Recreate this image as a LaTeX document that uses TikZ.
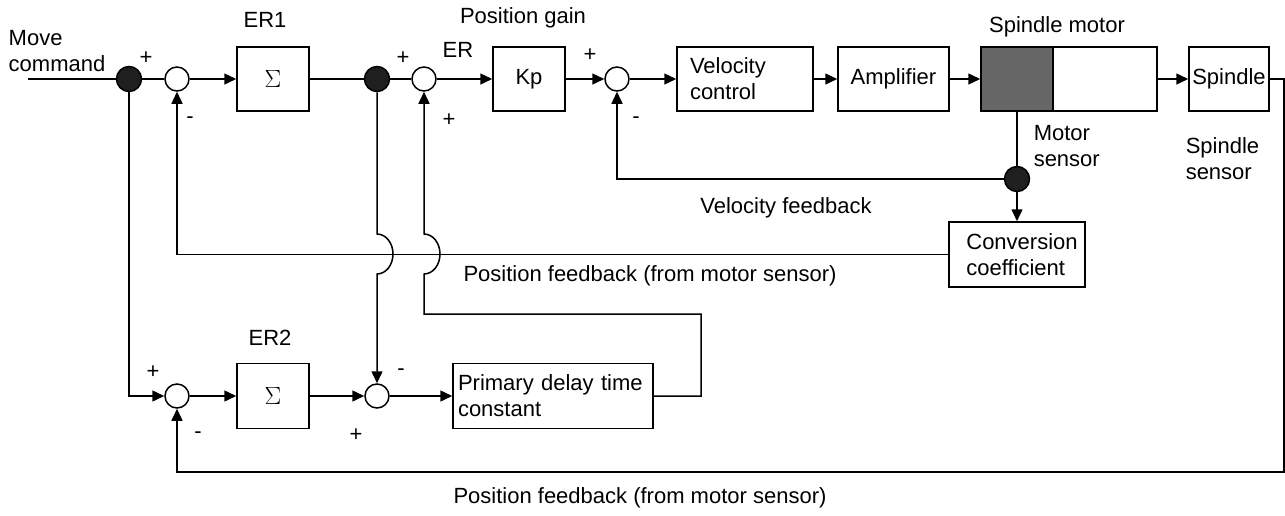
\documentclass[tikz,border=0pt]{standalone}
\usepackage{fontspec}
\setmainfont{Liberation Sans}
\newfontfamily\sigfont{Liberation Serif}
\usetikzlibrary{arrows.meta}
\begin{document}
\begin{tikzpicture}[x=1pt,y=1pt,
  line width=1.5pt,
  every node/.style={font=\fontsize{22}{26}\selectfont},
  arr/.style={-{Triangle[length=12pt,width=11pt]}},
  blk/.style={draw,minimum height=64pt,inner sep=0pt,line width=1.5pt},
  sumc/.style={draw,circle,minimum size=24pt,inner sep=0pt,fill=white},
  dotc/.style={draw,circle,minimum size=25pt,inner sep=0pt,fill=black!88},
  lbl/.style={inner sep=0pt},
  sgn/.style={inner sep=0pt,font=\fontsize{22}{26}\selectfont},
  sig/.style={blk,font=\fontsize{24}{28}\sigfont},
]
\useasboundingbox (0,0) rectangle (1285,-515);
% top row
\coordinate (in) at (28,-79);
\node[dotc] (d1) at (129,-79) {};
\node[sumc] (c1) at (177,-79) {};
\node[sig,minimum width=72pt] (er1) at (273,-79) {$\Sigma$};
\node[dotc] (d2) at (377,-79) {};
\node[sumc] (c2) at (424,-79) {};
\node[blk,minimum width=72pt] (kp) at (529,-79) {Kp};
\node[blk,minimum width=136pt,text width=110pt,align=left,inner xsep=13pt] (vel) at (745,-79) {Velocity\\control};
\node[sumc] (c3) at (617,-79) {};
\node[blk,minimum width=111pt] (amp) at (893.5,-79) {Amplifier};
\node[blk,minimum width=176pt] (mot) at (1069,-79) {};
\node[blk,minimum width=72pt,fill=black!60] (motg) at (1017,-79) {};
\node[blk,minimum width=80pt] (sp) at (1229,-79) {Spindle};
\node[dotc] (d3) at (1017,-179) {};
\node[blk,minimum width=136pt,minimum height=65pt,align=left] (conv) at (1017,-254.5) {\hspace*{10pt}Conversion\\\hspace*{10pt}coefficient};
% bottom row
\node[sumc] (c4) at (177,-396) {};
\node[sig,minimum width=72pt,minimum height=65pt] (er2) at (273,-396) {$\Sigma$};
\node[sumc] (c5) at (377,-396) {};
\node[blk,minimum width=200pt,minimum height=65pt,text width=190pt,align=left] (pd) at (553,-396) {Primary delay time\\constant};
% connectors
\draw (in) -- (d1.west);
\draw (d1.east) -- (c1.west);
\draw[arr] (c1.east) -- (er1.west);
\draw (er1.east) -- (d2.west);
\draw (d2.east) -- (c2.west);
\draw[arr] (c2.east) -- (kp.west);
\draw[arr] (kp.east) -- (c3.west);
\draw[arr] (c3.east) -- (vel.west);
\draw[arr] (vel.east) -- (amp.west);
\draw[arr] (amp.east) -- (mot.west);
\draw[arr] (mot.east) -- (sp.west);
\coordinate (sr) at (1284,-79);
\coordinate (sb) at (1284,-472);
\draw[arr] (sp.east) -- (sr) -- (sb) -| (c4.south);
\draw (motg.south) -- (d3.north);
\draw[arr] (d3.south) -- (conv.north);
\draw[arr] (d3.west) -| (c3.south);
\draw[arr] (conv.west) -| (c1.south);
\draw[arr] (d1.south) |- (c4.west);
\draw[arr] (c4.east) -- (er2.west);
\draw[arr] (er2.east) -- (c5.west);
\draw[arr] (c5.east) -- (pd.west);
\draw[arr] (d2.south) -- (377,-234) arc[start angle=90,end angle=-90,x radius=16,y radius=20] -- (c5.north);
\coordinate (pr) at (701,-396);
\coordinate (pt) at (701,-314);
\draw[arr] (pd.east) -- (pr) -- (pt) -- (424,-314) -- (424,-274) arc[start angle=-90,end angle=90,x radius=16,y radius=20] -- (c2.south);
% labels
\node[lbl,align=left,anchor=west] (mc) at (8,-51) {Move\\command};
\node[lbl] (ler1) at (265,-20) {ER1};
\node[lbl] (lpg) at (523,-18) {Position gain};
\node[lbl] (ler) at (458,-50) {ER};
\node[lbl] (lsm) at (1057,-27) {Spindle motor};
\node[lbl,align=left,anchor=west] (lms) at (1033,-146) {Motor\\sensor};
\node[lbl,align=left,anchor=west] (lss) at (1185,-159) {Spindle\\sensor};
\node[lbl] (lvf) at (786,-208) {Velocity feedback};
\node[lbl] (lpf1) at (650,-276) {Position feedback (from motor sensor)};
\node[lbl] (lpf2) at (640,-498) {Position feedback (from motor sensor)};
\node[lbl] (ler2) at (270,-338) {ER2};
% signs
\node[sgn] (s1) at (146,-58) {+};
\node[sgn] (s2) at (190,-120) {-};
\node[sgn] (s3) at (403,-58) {+};
\node[sgn] (s4) at (449,-120) {+};
\node[sgn] (s5) at (590,-55) {+};
\node[sgn] (s6) at (636,-120) {-};
\node[sgn] (s7) at (153,-372) {+};
\node[sgn] (s8) at (198,-435) {-};
\node[sgn] (s9) at (401,-372) {-};
\node[sgn] (s10) at (356,-435) {+};
\end{tikzpicture}
\end{document}
